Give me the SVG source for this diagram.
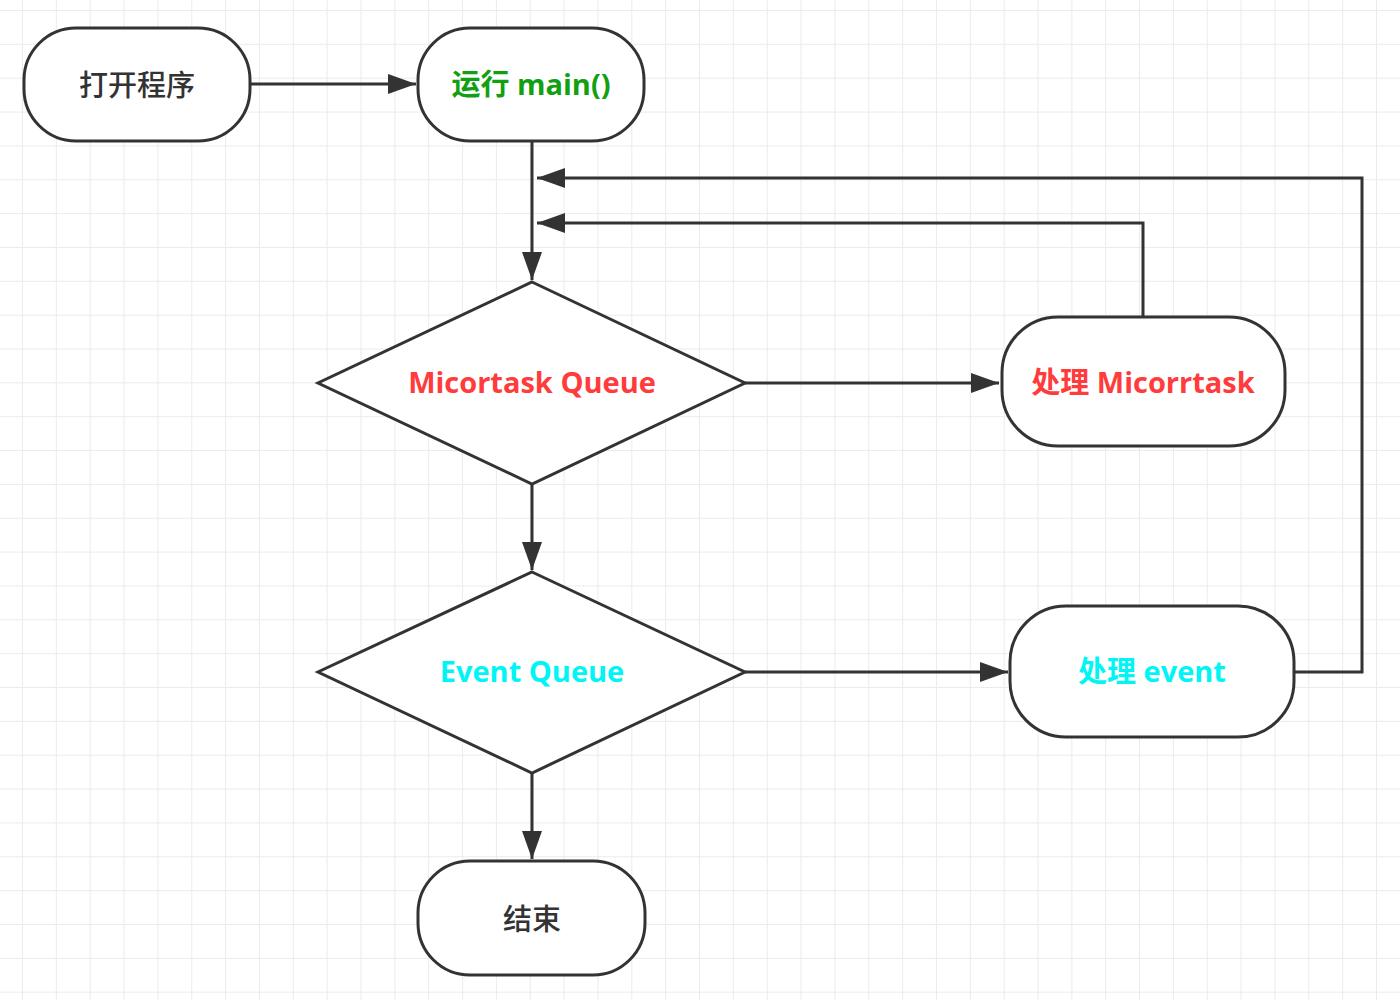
<svg xmlns="http://www.w3.org/2000/svg" width="1400" height="1000" viewBox="0 0 1400 1000">
  <style>
    .node { fill: #ffffff; stroke: #333333; stroke-width: 3; }
    .edge { fill: none; stroke: #333333; stroke-width: 3; }
    .lbl { font-family: "Open Sans", "Noto Sans CJK SC", sans-serif; font-size: 29px; text-anchor: middle; dominant-baseline: central; }
    .cjk { font-family: "Noto Sans CJK SC", sans-serif; font-size: 29px; fill: #333333; font-weight: 500; }
    .b { font-weight: bold; }
    .green { fill: #11a011; }
    .red { fill: #ff3b3b; }
    .cyan { fill: #00f6f6; }
  </style>
  <defs>
    <pattern id="grid" x="22" y="10" width="33.85" height="33.85" patternUnits="userSpaceOnUse">
      <path d="M0 0 V33.85 M0 0 H33.85" fill="none" stroke="#ebebeb" stroke-width="2"/>
    </pattern>
    <marker id="arrow" markerUnits="userSpaceOnUse" markerWidth="28" markerHeight="20" viewBox="0 0 28 20" refX="28" refY="10" orient="auto">
      <path d="M0 0 L28 10 L0 20 Z" fill="#333333"/>
    </marker>
  </defs>
  <rect x="0" y="0" width="1400" height="1000" fill="#ffffff"/>
  <rect x="0" y="0" width="1400" height="1000" fill="url(#grid)"/>

  <g id="connectors">
    <path class="edge" d="M251 84 H416" marker-end="url(#arrow)"/>
    <path class="edge" d="M532 141 V280" marker-end="url(#arrow)"/>
    <path class="edge" d="M745 383 H999" marker-end="url(#arrow)"/>
    <path class="edge" d="M1143 317 V223 H537" marker-end="url(#arrow)"/>
    <path class="edge" d="M532 484 V570" marker-end="url(#arrow)"/>
    <path class="edge" d="M745 672 H1008" marker-end="url(#arrow)"/>
    <path class="edge" d="M1294 672 H1362 V178 H537" marker-end="url(#arrow)"/>
    <path class="edge" d="M532 773 V859" marker-end="url(#arrow)"/>
  </g>

  <g id="start">
    <rect class="node" x="24" y="28" width="226" height="113" rx="52" ry="52"/>
    <text class="lbl cjk" x="137" y="83">打开程序</text>
  </g>
  <g id="run-main">
    <rect class="node" x="418" y="28" width="226" height="113" rx="52" ry="52"/>
    <text class="lbl b green" x="531" y="83">运行 main()</text>
  </g>
  <g id="microtask-queue">
    <polygon class="node" points="532,282 745,383 532,484 318,383"/>
    <text class="lbl b red" x="532" y="381">Micortask Queue</text>
  </g>
  <g id="handle-microtask">
    <rect class="node" x="1002" y="317" width="283" height="129" rx="56" ry="56"/>
    <text class="lbl b red" x="1143" y="381">处理 Micorrtask</text>
  </g>
  <g id="event-queue">
    <polygon class="node" points="532,572 745,672 532,773 318,672"/>
    <text class="lbl b cyan" x="532" y="670">Event Queue</text>
  </g>
  <g id="handle-event">
    <rect class="node" x="1010" y="606" width="284" height="131" rx="56" ry="56"/>
    <text class="lbl b cyan" x="1152" y="670">处理 event</text>
  </g>
  <g id="end">
    <rect class="node" x="418" y="861" width="227" height="114" rx="52" ry="52"/>
    <text class="lbl cjk" x="532" y="917">结束</text>
  </g>
</svg>
